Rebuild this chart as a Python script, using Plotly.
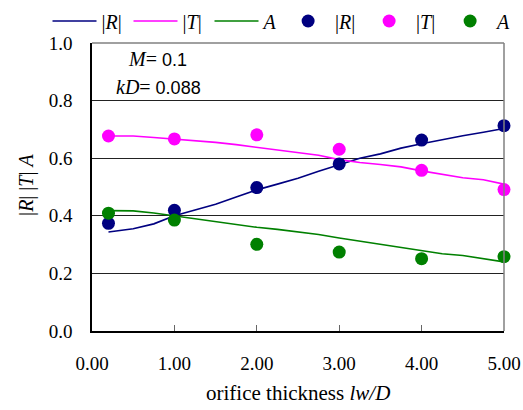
import plotly.graph_objects as go

# measured data (markers)
x_pts = [0.2, 1, 2, 3, 4, 5]
R_pts = [0.374, 0.419, 0.498, 0.580, 0.663, 0.713]
T_pts = [0.677, 0.667, 0.681, 0.631, 0.558, 0.491]
A_pts = [0.409, 0.385, 0.301, 0.274, 0.251, 0.258]

# computed curves (lines)
x_line = [0.2, 0.5, 0.75, 1.0, 1.25, 1.5, 1.75, 2.0, 2.25, 2.5, 2.75, 3.0,
          3.25, 3.5, 3.75, 4.0, 4.25, 4.5, 4.75, 5.0]
R_line = [0.344, 0.355, 0.372, 0.400, 0.420, 0.440, 0.465, 0.490, 0.510, 0.530,
          0.555, 0.578, 0.600, 0.615, 0.635, 0.650, 0.665, 0.678, 0.690, 0.703]
T_line = [0.677, 0.677, 0.672, 0.667, 0.662, 0.655, 0.647, 0.638, 0.630, 0.620,
          0.610, 0.595, 0.585, 0.578, 0.570, 0.556, 0.545, 0.532, 0.525, 0.510]
A_line = [0.418, 0.417, 0.410, 0.400, 0.390, 0.380, 0.372, 0.360, 0.353, 0.345,
          0.335, 0.323, 0.312, 0.300, 0.290, 0.278, 0.268, 0.262, 0.252, 0.240]

x_ticks = [0, 1, 2, 3, 4, 5]
x_ticktext = ["0.00", "1.00", "2.00", "3.00", "4.00", "5.00"]
y_ticks = [0.0, 0.2, 0.4, 0.6, 0.8, 1.0]
y_ticktext = ["0.0", "0.2", "0.4", "0.6", "0.8", "1.0"]

NAVY = "#000080"
MAG = "#FF00FF"
GRN = "#008000"
FONT = "Liberation Serif"
SANS = "Liberation Sans"

fig = go.Figure()
names = ["|<i>R</i>|", "|<i>T</i>|", "<i>A</i>"]
for y, c, n in zip([R_line, T_line, A_line], [NAVY, MAG, GRN], names):
    fig.add_trace(go.Scatter(x=x_line, y=y, mode="lines", name=n,
                             line=dict(color=c, width=1.6), legend="legend"))
for y, c, n in zip([R_pts, T_pts, A_pts], [NAVY, MAG, GRN], names):
    fig.add_trace(go.Scatter(x=x_pts, y=y, mode="markers", name=n,
                             marker=dict(color=c, size=13), cliponaxis=False,
                             legend="legend2"))

legend_common = dict(orientation="h", yanchor="middle", y=1.0764, xanchor="left",
                     font=dict(family=FONT, size=20, color="black"),
                     itemwidth=44, entrywidth=22, entrywidthmode="pixels",
                     bgcolor="rgba(0,0,0,0)", borderwidth=0, tracegroupgap=0)

fig.update_layout(
    width=523, height=410,
    margin=dict(l=92, r=19, t=43, b=79, autoexpand=False),
    paper_bgcolor="white", plot_bgcolor="white",
    font=dict(family=FONT, size=19, color="black"),
    showlegend=True,
    legend=dict(x=-0.1080, **legend_common),
    legend2=dict(x=0.459, **legend_common),
    xaxis=dict(range=[0, 5], tickvals=x_ticks, ticktext=x_ticktext,
               showgrid=False, zeroline=False, showline=True, linecolor="black",
               linewidth=1.5, ticks="inside", ticklen=6, tickcolor="#666",
               ticklabelstandoff=14, tickfont=dict(family=FONT, size=19)),
    yaxis=dict(range=[0, 1], tickvals=y_ticks, ticktext=y_ticktext,
               showgrid=True, gridcolor="#222", gridwidth=1, zeroline=False,
               showline=True, linecolor="black", linewidth=1.5, ticks="",
               ticklabelstandoff=14, tickfont=dict(family=FONT, size=19)),
    shapes=[
        dict(type="line", xref="paper", yref="paper", x0=0, x1=1, y0=1, y1=1,
             line=dict(color="#808080", width=1.5)),
        dict(type="line", xref="paper", yref="paper", x0=1, x1=1, y0=0, y1=1,
             line=dict(color="#808080", width=1.5)),
    ],
    annotations=[
        dict(text=f"<i>M</i>= <span style='font-family:{SANS};font-size:18px'>0.1</span>",
             xref="paper", yref="paper", x=0.082, y=0.944,
             xanchor="left", yanchor="middle", showarrow=False,
             font=dict(family=FONT, size=20)),
        dict(text=f"<i>kD</i>= <span style='font-family:{SANS};font-size:18px'>0.088</span>",
             xref="paper", yref="paper", x=0.053, y=0.847,
             xanchor="left", yanchor="middle", showarrow=False,
             font=dict(family=FONT, size=20)),
        dict(text="orifice thickness <i>lw/D</i>", xref="paper", yref="paper",
             x=0.501, y=-0.215, xanchor="center", yanchor="middle", showarrow=False,
             font=dict(family=FONT, size=21)),
        dict(text="|<i>R</i>| |<i>T</i>| <i>A</i>", xref="paper", yref="paper",
             x=-0.158, y=0.507, xanchor="center", yanchor="middle", showarrow=False,
             textangle=-90, font=dict(family=FONT, size=20)),
    ],
)

fig.write_html("out.html")
